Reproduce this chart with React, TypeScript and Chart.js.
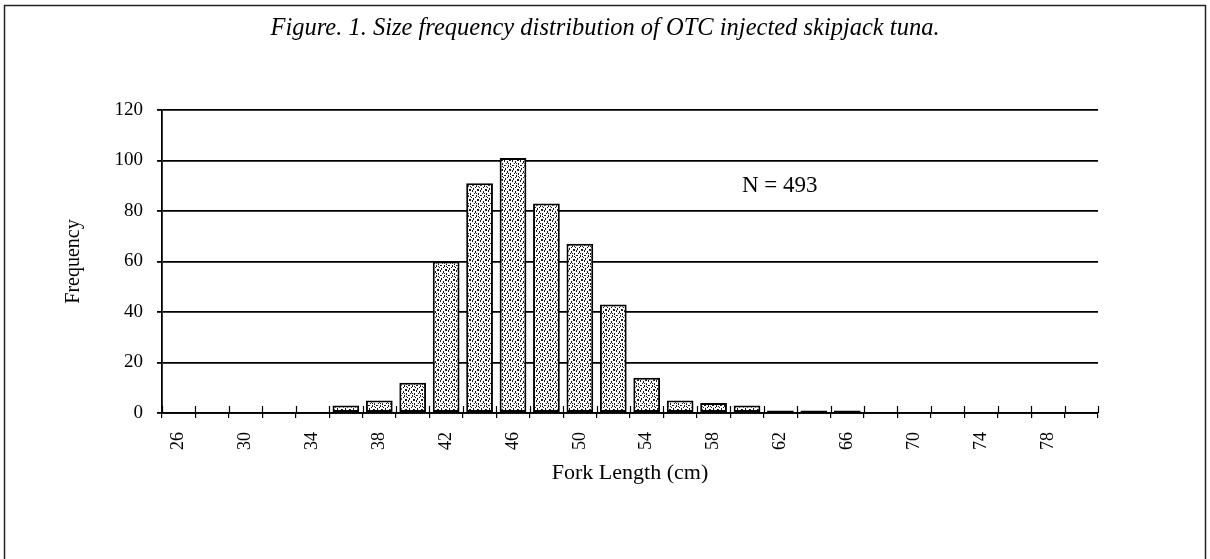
import React, { useEffect, useRef } from 'react';
import { Chart, registerables } from 'chart.js';

Chart.register(...registerables);

// ---- data ----
const lengthClasses = ['26', '28', '30', '32', '34', '36', '38', '40', '42', '44', '46', '48', '50', '52', '54', '56', '58', '60', '62', '64', '66', '68', '70', '72', '74', '76', '78', '80'];
const frequencies = [0, 0, 0, 0, 0, 3, 5, 12, 60, 91, 101, 83, 67, 43, 14, 5, 4, 3, 1, 1, 1, 0, 0, 0, 0, 0, 0, 0];
const labeledTicks = ['26', '30', '34', '38', '42', '46', '50', '54', '58', '62', '66', '70', '74', '78'];
const yTickMax = 120;
const yTickStep = 20;

const chartTitle = 'Figure. 1. Size frequency distribution of OTC injected skipjack tuna.';
const yAxisTitle = 'Frequency';
const xAxisTitle = 'Fork Length (cm)';
const sampleNote = 'N = 493';
const notePosition = { category: 16.85, value: 87.5 };

const SERIF = '"Liberation Serif", "Times New Roman", serif';

function makeStipple(ctx: CanvasRenderingContext2D) {
  const c = document.createElement('canvas');
  c.width = 8;
  c.height = 10;
  const g = c.getContext('2d')!;
  g.fillStyle = '#ffffff';
  g.fillRect(0, 0, 8, 10);
  g.fillStyle = '#1a1a1a';
  const marks = [
    [0, 0, 1, 2], [3, 1, 1, 2], [5, 0, 2, 1], [6, 3, 1, 2], [2, 3, 1, 1], [4, 3, 1, 1],
    [0, 5, 2, 1], [4, 5, 1, 2], [7, 7, 1, 1], [1, 8, 1, 2], [5, 9, 2, 1], [3, 7, 1, 1], [6, 6, 1, 1],
  ];
  marks.forEach(([x, y, w, h]) => g.fillRect(x, y, w, h));
  return ctx.createPattern(c, 'repeat');
}

const decorPlugin = {
  id: 'decor',
  beforeDraw(chart: any) {
    const { ctx, width, height } = chart;
    ctx.save();
    ctx.fillStyle = '#ffffff';
    ctx.fillRect(0, 0, width, height);
    ctx.strokeStyle = '#222';
    ctx.lineWidth = 1.5;
    ctx.strokeRect(4.5, 5.5, width - 9, height + 10);
    ctx.fillStyle = '#000';
    ctx.font = `italic 24.5px ${SERIF}`;
    ctx.textAlign = 'center';
    ctx.textBaseline = 'alphabetic';
    ctx.fillText(chartTitle, width / 2, 35);
    ctx.restore();
  },
  afterDatasetsDraw(chart: any) {
    const { ctx } = chart;
    const xs = chart.scales.x;
    const ys = chart.scales.y;
    const base = ys.getPixelForValue(0);
    ctx.save();
    ctx.strokeStyle = '#000';
    ctx.lineWidth = 1.2;
    ctx.beginPath();
    for (let i = 0; i <= lengthClasses.length; i++) {
      const px = Math.round(xs.getPixelForValue(i - 0.5)) + 0.5;
      ctx.moveTo(px, base - 7);
      ctx.lineTo(px, base);
    }
    ctx.stroke();
    ctx.fillStyle = '#000';
    ctx.font = `23px ${SERIF}`;
    ctx.textAlign = 'left';
    ctx.textBaseline = 'alphabetic';
    ctx.fillText(sampleNote, xs.getPixelForValue(notePosition.category), ys.getPixelForValue(notePosition.value));
    ctx.restore();
  },
};

export default function App() {
  const ref = useRef<HTMLCanvasElement | null>(null);

  useEffect(() => {
    const canvas = ref.current!;
    const ctx = canvas.getContext('2d')!;
    const stipple = makeStipple(ctx);
    const chart = new Chart(ctx, {
      type: 'bar',
      data: {
        labels: lengthClasses,
        datasets: [
          {
            data: frequencies,
            backgroundColor: stipple as any,
            borderColor: '#000',
            borderWidth: 2,
            borderSkipped: false,
            barPercentage: 0.8,
            categoryPercentage: 1,
          },
        ],
      },
      options: {
        responsive: false,
        animation: false,
        devicePixelRatio: 1,
        layout: { padding: { left: 62, top: 110, right: 112, bottom: 73 } },
        plugins: {
          legend: { display: false },
          tooltip: { enabled: false },
          title: { display: false },
        },
        scales: {
          x: {
            afterFit(scale: any) {
              scale.height = 73;
            },
            grid: {
              display: true,
              drawOnChartArea: false,
              drawTicks: true,
              tickLength: 5,
              color: '#000',
              lineWidth: 1.2,
              offset: true,
            },
            border: { display: true, color: '#000', width: 1.8 },
            ticks: {
              autoSkip: false,
              minRotation: 90,
              maxRotation: 90,
              padding: 14,
              color: '#000',
              font: { family: SERIF, size: 18 },
              callback(_v: any, index: number) {
                const lab = lengthClasses[index];
                return labeledTicks.includes(lab) ? lab : '';
              },
            },
            title: {
              display: true,
              text: xAxisTitle,
              color: '#000',
              font: { family: SERIF, size: 22 },
              padding: 0,
            },
          },
          y: {
            min: 0,
            max: yTickMax,
            afterFit(scale: any) {
              scale.width = 100;
            },
            grid: {
              color: '#000',
              lineWidth: 1.8,
              drawTicks: true,
              tickLength: 5,
            },
            border: { display: true, color: '#000', width: 1.8 },
            ticks: {
              stepSize: yTickStep,
              padding: 14,
              color: '#000',
              font: { family: SERIF, size: 19 },
            },
            title: {
              display: true,
              text: yAxisTitle,
              color: '#000',
              font: { family: SERIF, size: 20 },
              padding: 0,
            },
          },
        },
      },
      plugins: [decorPlugin],
    });
    return () => chart.destroy();
  }, []);

  return (
    <div style={{ position: 'absolute', left: 0, top: 0, width: 1210, height: 559, background: '#fff' }}>
      <canvas ref={ref} width={1210} height={559} style={{ display: 'block' }} />
    </div>
  );
}
